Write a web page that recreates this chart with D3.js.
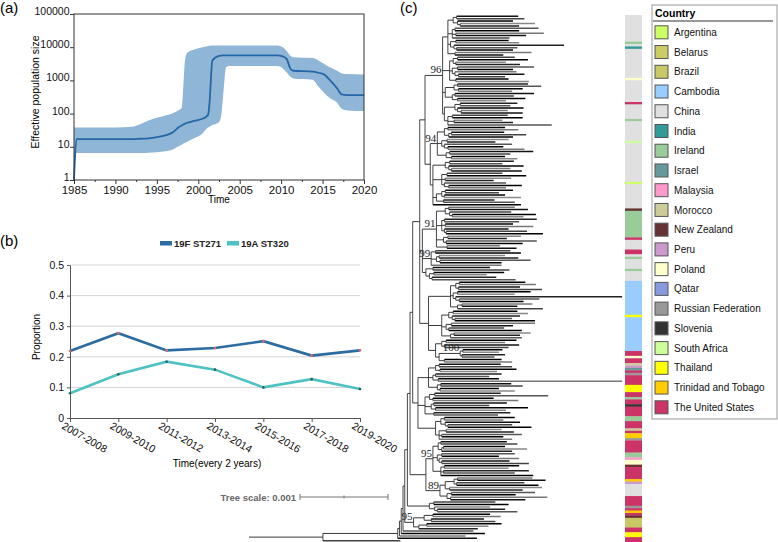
<!DOCTYPE html>
<html><head><meta charset="utf-8">
<script src="https://cdn.jsdelivr.net/npm/d3@7"></script>
<style>
body{margin:0;background:#fff}
svg{display:block}
text{font-family:"Liberation Sans",Arial,Helvetica,sans-serif}
</style>
</head><body>
<svg id="chart" width="778" height="542"></svg>
<script>
// ---------------- Panel (a): effective population size ----------------
const neYears  = [1985,1985.3,1990,1992,1993,1994,1995,1996,1997,1997.7,1998,1998.2,1998.35,1998.6,1999.5,2000.5,2001,2001.2,2001.35,2001.7,2002.5,2002.8,2003.05,2003.35,2003.7,2009.5,2010.2,2010.7,2011.1,2011.5,2013.8,2014.5,2015.2,2016,2016.7,2017.3,2018,2020];
const neLower  = [1,6.5,6.5,6.5,6.5,6.6,6.8,7.3,8.5,10.5,11.5,12.5,13,14,18,25,35,38,40,45,55,100,500,2500,2700,2700,2300,1700,1300,1150,1050,650,420,280,220,140,125,120];
const neMedian = [1,17,17,17,17.5,18,19.5,22,28,40,44,47,49,52,60,70,82,95,200,4000,5500,5600,5700,5700,5700,5700,5300,4300,2300,1950,1850,1700,1500,950,600,380,360,360];
const neUpper  = [38,38,38,40,48,62,75,88,105,130,150,700,3000,6500,8500,10000,10500,10800,11000,11200,11300,11300,11300,11300,11300,11300,10000,7500,5500,5000,4700,4000,3100,2400,2000,1650,1550,1500];
const neYearTicks  = [1985,1990,1995,2000,2005,2010,2015,2020];
const neYearMinor  = [1987.5,1992.5,1997.5,2002.5,2007.5,2012.5,2017.5];
const neValueTicks = [1,10,100,1000,10000,100000];

// ---------------- Panel (b): proportions ----------------
const periods   = ["2007-2008","2009-2010","2011-2012","2013-2014","2015-2016","2017-2018","2019-2020"];
const prop19F   = [0.219,0.277,0.221,0.229,0.251,0.204,0.221];
const prop19A   = [0.081,0.143,0.184,0.158,0.100,0.127,0.095];
const seriesNames = ["19F ST271","19A ST320"];
const propTicks = [0,0.1,0.2,0.3,0.4,0.5];

// ---------------- Panel (c): phylogeny ----------------
const countries = ["Argentina","Belarus","Brazil","Cambodia","China","India","Ireland","Israel","Malaysia","Morocco","New Zealand","Peru","Poland","Qatar","Russian Federation","Slovenia","South Africa","Thailand","Trinidad and Tobago","The United States"];
const countryColors = ["#ccff66","#cccc66","#c8c864","#99ccff","#e0e0e0","#339999","#99cc99","#669999","#ff99cc","#cccc99","#663333","#cc99cc","#ffffcc","#8899dd","#999999","#333333","#ccff99","#ffff00","#ffcc00","#cc3366"];
// country strip, in leaf order (top to bottom)
const stripCountries = ["China","Ireland","China","India","China","Poland","China","The United States","China","Ireland","China","South Africa","China","Argentina","China","New Zealand","Ireland","The United States","China","The United States","China","Ireland","China","Ireland","China","Cambodia","Thailand","Cambodia","The United States","Poland","The United States","Morocco","Peru","Israel","The United States","Russian Federation","The United States","Thailand","The United States","Ireland","The United States","Slovenia","The United States","Ireland","The United States","Morocco","The United States","Trinidad and Tobago","Russian Federation","The United States","Ireland","Malaysia","Poland","New Zealand","The United States","Trinidad and Tobago","Peru","China","The United States","Russian Federation","The United States","Trinidad and Tobago","The United States","New Zealand","Brazil","The United States","Thailand","The United States"];
const stripCounts = [11,1,1,1,12,1,9,1,6,1,8,1,16,1,10,1,11,1,4,2,1,1,4,1,4,14,1,14,2,1,2,1,1,1,1,1,4,3,2,1,2,1,4,2,3,1,1,2,1,5,2,1,2,1,5,1,1,5,4,1,1,1,1,1,4,2,2,2];
// tree, Newick, branch lengths in 1e-5 substitutions/site; internal labels = bootstrap
const treeNewick = `
((((((((((
  (
    (
      (
        (((:70,:77):4,(:63,(:85,:67):3):5):6,((:95,:73):3,(:100,:80):4,:65):5,((:60,:72):6,(:125,(:69,:64):3):4):3,(:87,:55):8):6,
        (((:65,:80):5,(:57,:73):3):4,((:87,:63):6,(:70,(:75,:53):4):3):3,(:60,:83):7):8,
        (((:80,:95):4,(:73,:61):5):10,((:90,:67):3,(:77,:55):6):8):3,
        (((:65,:57):6,(:75,(:53,:70):4):3):12,((:63,:80):5,(:55,:67):7,:118):4):2
      )96:20,
      (
        (((:65,:80):4,((:60,:85):3,:73):5):8,((:70,:55):6,(:77,(:63,:87):4):3):5,((:95,:69):4,(:61,:75):6):10)94:8,
        (((:73,:60):5,(:85,(:67,:80):3):4):14,((:63,:90):6,(:75,:55):4,(:70,(:83,:65):5):3):10,(((:77,:61):4,(:69,:87):3):6,(:58,:81):8):4,:100):3
      ):6
    ):6,
    (
      (((:75,:90):4,(:70,(:95,:81):3):5):10,((:105,:85):3,(:77,:100):4,(:73,(:92,:110):2):3):6,((:83,:67):5,(:103,:87):3):8,(:60,:79):12)91:16,
      ((:85,:97):5,((:75,:90):3,(:103,:70):4):6,:80)99:10,
      ((:65,:87):8,((:80,:60):5,(:73,:95):3):4):4
    ):3,
    (
      (((:75,:87):4,(:70,:95):3):6,((:83,:65):5,(:189,(:91,:73):4):3):3,((:80,:63):5,:97):8):25,
      (((:73,:85):5,(:77,(:65,:91):3):4):8,((:95,:70):6,(:63,:83):3):5,((:87,:75):4,:81):10):15,
      (((:80,:67):5,(:85,:73):3):7,(((:45,:41):3,(:49,:37):2)100:24,(:65,:77):6):4):8
    ):10
  ):8,
  (
    (((:70,:83):4,(:87,:65):5):8,((:75,:61):3,(:69,:209):6):5,((:80,:93):4,(:67,:85):3):10):12,
    (((:75,:129):6,(:69,:97):4):5,((:83,:63):3,(:105,:80):5):7,(:87,:73):10):8,
    (((:80,:67):4,(:85,(:73,:95):3):5):6,((:63,:77):8,(:91,:70):3,:83):4):20
  ):6
):3,
  (
    (((:75,:87):3,((:70,:95):2,:80):4):6,((:83,:65):5,(:91,(:77,:99):3):2):5,((:85,:73):4,(:97,:81):3,:105):9)95:8,
    ((((:85,:100):4,(:77,:93):3):10,(:105,:83):5):6,((:95,:73):5,(:110,:85):4):8)89:16
  ):18
):3,
  ((:70,:85):5,(:63,(:77,:91):3):6):25
):3,
  (((:65,:77):10,(:60,:73):8):12,((:85,:70):9,:67):6)95:10
):2,:80):2,:95):2,:75):2,:90):85,:88):84);`;
const treeScaleValue = 0.001;   // substitutions/site
const treeScaleUnits = 100;     // in Newick length units (1e-5)

// ====================================================================
const svg = d3.select("#chart");

// ---------------- Panel (a) ----------------
{
  const xA = d3.scaleLinear().domain([1985, 2020]).range([74, 364]);
  const yA = d3.scaleLog().domain([1, 100000]).range([180, 14]);
  const idx = d3.range(neYears.length);
  const g = svg.append("g");
  g.append("path").datum(idx)
    .attr("d", d3.area().x(i => xA(neYears[i])).y0(i => yA(neLower[i])).y1(i => yA(neUpper[i])).curve(d3.curveMonotoneX))
    .attr("fill", "#8fb6d6");
  g.append("path").datum(idx)
    .attr("d", d3.line().x(i => xA(neYears[i])).y(i => yA(neMedian[i])).curve(d3.curveMonotoneX))
    .attr("fill", "none").attr("stroke", "#2467a6").attr("stroke-width", 1.8);
  g.append("rect").attr("x", 74).attr("y", 14).attr("width", 290).attr("height", 166)
    .attr("fill", "none").attr("stroke", "#333").attr("stroke-width", 1);

  const ax = g.append("g").attr("transform", "translate(0,180)")
    .call(d3.axisBottom(xA).tickValues(neYearTicks).tickFormat(d3.format("d")).tickSize(4).tickSizeOuter(0));
  const axm = g.append("g").attr("transform", "translate(0,180)")
    .call(d3.axisBottom(xA).tickValues(neYearMinor).tickFormat("").tickSize(2).tickSizeOuter(0));
  const ay = g.append("g").attr("transform", "translate(74,0)")
    .call(d3.axisLeft(yA).tickValues(neValueTicks).tickFormat(d3.format("d")).tickSize(4).tickSizeOuter(0));
  [ax, axm, ay].forEach(a => { a.select(".domain").remove(); a.selectAll("line").attr("stroke", "#333"); });
  ax.selectAll("text").attr("font-size", 11.5).attr("fill", "#111").attr("dy", "0.75em").attr("y", 5);
  ay.selectAll("text").attr("font-size", 10.5).attr("fill", "#111").attr("x", -4.5).attr("dy", "0.05em");

  g.append("text").attr("x", 219).attr("y", 203).attr("text-anchor", "middle").attr("font-size", 10).text("Time");
  g.append("text").attr("transform", "translate(39,92) rotate(-90)").attr("text-anchor", "middle")
    .attr("font-size", 10.5).text("Effective population size");
  svg.append("text").attr("x", 0).attr("y", 13).attr("font-size", 15).text("(a)");
}

// ---------------- Panel (b) ----------------
{
  const xB = d3.scalePoint().domain(periods).range([70, 360]);
  const yB = d3.scaleLinear().domain([0, 0.5]).range([418, 265]);
  const g = svg.append("g");
  g.selectAll("line.grid").data(propTicks.filter(d => d > 0)).join("line")
    .attr("x1", 70).attr("x2", 360).attr("y1", d => yB(d)).attr("y2", d => yB(d))
    .attr("stroke", "#d4d4d4").attr("stroke-width", 1);
  const ay = g.append("g").attr("transform", "translate(70,0)")
    .call(d3.axisLeft(yB).tickValues(propTicks).tickFormat(d => d === 0 ? "0" : d3.format(".1f")(d)).tickSize(3).tickSizeOuter(0));
  ay.select(".domain").attr("stroke", "#555");
  ay.selectAll("line").attr("stroke", "#555");
  ay.selectAll("text").attr("font-size", 10.5).attr("fill", "#111");
  const ax = g.append("g").attr("transform", "translate(0,418)")
    .call(d3.axisBottom(xB).tickSize(4).tickSizeOuter(0).tickFormat(""));
  ax.select(".domain").attr("stroke", "#555");
  ax.selectAll("line").attr("stroke", "#555");
  g.selectAll("text.xl").data(periods).join("text")
    .attr("transform", d => `translate(${xB(d) - 9},428) rotate(30)`)
    .attr("font-size", 10.5).attr("fill", "#111").text(d => d);

  const series = [prop19F, prop19A];
  const colors = ["#2b6ca3", "#4cc2c3"];
  const dotColors = ["#e06a6a", "#3d5a5a"];
  series.forEach((vals, s) => {
    g.append("path").datum(periods)
      .attr("d", d3.line().x(p => xB(p)).y((p, i) => yB(vals[i])))
      .attr("fill", "none").attr("stroke", colors[s]).attr("stroke-width", 2.6);
    g.selectAll(null).data(periods).join("circle")
      .attr("cx", p => xB(p)).attr("cy", (p, i) => yB(vals[i])).attr("r", 1.3).attr("fill", dotColors[s]);
  });
  // legend
  const lg = [{x: 160, tx: 174}, {x: 227, tx: 241}];
  seriesNames.forEach((nm, s) => {
    g.append("rect").attr("x", lg[s].x).attr("y", 241).attr("width", 12).attr("height", 4.5).attr("fill", colors[s]);
    g.append("text").attr("x", lg[s].tx).attr("y", 246.5).attr("font-size", 9.5).attr("font-weight", "bold").attr("fill", "#222").text(nm);
  });
  g.append("text").attr("x", 217).attr("y", 467).attr("text-anchor", "middle").attr("font-size", 10).text("Time(every 2 years)");
  g.append("text").attr("transform", "translate(40,337) rotate(-90)").attr("text-anchor", "middle").attr("font-size", 10).text("Proportion");
  svg.append("text").attr("x", 0).attr("y", 246).attr("font-size", 15).text("(b)");
}

// ---------------- Panel (c) ----------------
function parseNewick(str) {
  const s = str.replace(/\s+/g, "");
  let i = 0;
  function node() {
    const n = {name: "", length: 0, children: []};
    if (s[i] === "(") {
      i++;
      n.children.push(node());
      while (s[i] === ",") { i++; n.children.push(node()); }
      i++;
    }
    let name = "";
    while (i < s.length && ":,();".indexOf(s[i]) < 0) name += s[i++];
    n.name = name;
    if (s[i] === ":") {
      i++;
      let num = "";
      while (i < s.length && ",();".indexOf(s[i]) < 0) num += s[i++];
      n.length = +num;
    }
    return n;
  }
  return node();
}
{
  const g = svg.append("g");
  const root = d3.hierarchy(parseNewick(treeNewick), d => d.children.length ? d.children : null);
  root.eachBefore(n => { n.dist = n.parent ? n.parent.dist + n.data.length : 0; });
  const leaves = root.leaves();
  const yLeaf = d3.scaleLinear().domain([0, leaves.length]).range([15, 542]);
  leaves.forEach((l, i) => { l.py = yLeaf(i + 0.5); l.idx = i; });
  root.eachAfter(n => { if (n.children) n.py = (n.children[0].py + n.children[n.children.length - 1].py) / 2; });
  const xTree = d3.scaleLinear().domain([0, treeScaleUnits]).range([249, 337]);

  const shades = ["#111", "#444", "#000", "#888", "#222", "#555", "#000", "#777"];
  const nodes = root.descendants();
  // horizontal branches
  g.selectAll("line.h").data(nodes.filter(n => n.parent)).join("line")
    .attr("x1", n => xTree(n.parent.dist)).attr("x2", n => xTree(n.dist))
    .attr("y1", n => n.py).attr("y2", n => n.py)
    .attr("stroke", n => n.children ? "#222" : shades[n.idx % shades.length])
    .attr("stroke-width", n => n.children ? 0.9 : 1.5);
  // vertical connectors
  g.selectAll("line.v").data(nodes.filter(n => n.children && n.children.length > 1)).join("line")
    .attr("x1", n => xTree(n.dist)).attr("x2", n => xTree(n.dist))
    .attr("y1", n => n.children[0].py).attr("y2", n => n.children[n.children.length - 1].py)
    .attr("stroke", "#333").attr("stroke-width", 0.9);
  // bootstrap labels
  g.selectAll("text.bs").data(nodes.filter(n => n.children && n.data.name)).join("text")
    .attr("x", n => xTree(n.dist) - 1).attr("y", n => n.py - 2)
    .attr("text-anchor", "end").attr("font-size", 11).attr("fill", "#222")
    .style("font-family", '"Liberation Serif","DejaVu Serif",serif').text(n => n.data.name);

  // country strip
  const total = d3.sum(stripCounts);
  const yStrip = d3.scaleLinear().domain([0, total]).range([15, 542]);
  const colorOf = d3.scaleOrdinal().domain(countries).range(countryColors);
  const cum = d3.cumsum(stripCounts);
  g.selectAll("rect.strip").data(stripCountries).join("rect")
    .attr("x", 625).attr("width", 17)
    .attr("y", (c, i) => yStrip(cum[i] - stripCounts[i]))
    .attr("height", (c, i) => yStrip(cum[i]) - yStrip(cum[i] - stripCounts[i]) + 0.3)
    .attr("fill", c => colorOf(c));

  // tree scale
  const sx0 = 300, sx1 = sx0 + (xTree(treeScaleUnits) - xTree(0)), sy = 497;
  g.append("line").attr("x1", sx0).attr("x2", sx1).attr("y1", sy).attr("y2", sy).attr("stroke", "#777");
  [sx0, sx1].forEach(x => g.append("line").attr("x1", x).attr("x2", x).attr("y1", sy - 3).attr("y2", sy + 3).attr("stroke", "#777"));
  g.append("line").attr("x1", (sx0 + sx1) / 2).attr("x2", (sx0 + sx1) / 2).attr("y1", sy - 1.5).attr("y2", sy + 1.5).attr("stroke", "#777");
  g.append("text").attr("x", sx0 - 4).attr("y", sy + 3.5).attr("text-anchor", "end")
    .attr("font-size", 9.5).attr("font-weight", "bold").attr("fill", "#666")
    .text("Tree scale: " + treeScaleValue);

  // legend
  const lgx = 652, lgy = 5;
  g.append("rect").attr("x", lgx).attr("y", lgy).attr("width", 125).attr("height", 414)
    .attr("fill", "#fff").attr("stroke", "#999").attr("stroke-width", 1);
  g.append("text").attr("x", lgx + 3).attr("y", lgy + 12).attr("font-size", 10.5).attr("font-weight", "bold").text("Country");
  g.append("line").attr("x1", lgx + 1).attr("x2", lgx + 121).attr("y1", lgy + 16).attr("y2", lgy + 16).attr("stroke", "#333");
  const rowY = d3.scaleLinear().domain([0, countries.length - 1]).range([32.3, 407.3]);
  g.selectAll("rect.sw").data(countries).join("rect")
    .attr("x", 655).attr("y", (c, i) => rowY(i) - 6.5).attr("width", 13).attr("height", 13)
    .attr("fill", c => colorOf(c)).attr("stroke", "#555").attr("stroke-width", 1);
  g.selectAll("text.lt").data(countries).join("text")
    .attr("x", 674).attr("y", (c, i) => rowY(i) + 3.6).attr("font-size", 10).attr("fill", "#111").text(c => c);

  svg.append("text").attr("x", 400).attr("y", 13).attr("font-size", 15).text("(c)");
}
</script>
</body></html>
